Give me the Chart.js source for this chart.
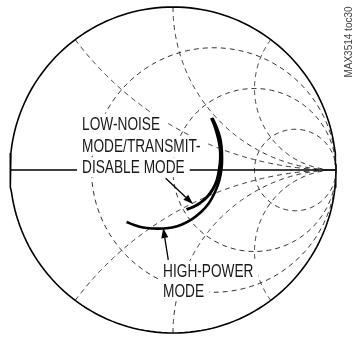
<!DOCTYPE html>
<html>
<head>
<meta charset="utf-8">
<script src="https://cdn.jsdelivr.net/npm/chart.js@4/dist/chart.umd.min.js"></script>
<style>
  html, body { margin: 0; padding: 0; background: #fff; }
  #wrap { width: 356px; height: 339px; }
</style>
</head>
<body>
<div id="wrap"><canvas id="smith" width="356" height="339"></canvas></div>
<script>
// Smith chart grid: normalized resistance circles and reactance arcs
const resistanceCircles = [1 / 3, 1, 3];
const reactanceArcs = [0.5, 1, 2, -0.5, -1, -2];

// Reflection coefficient traces (real part, imaginary part)
const lowNoiseRe = [0.236, 0.258, 0.276, 0.288, 0.291, 0.285, 0.270, 0.245, 0.209, 0.166, 0.123, 0.083];
const lowNoiseIm = [0.319, 0.264, 0.202, 0.141, 0.074, 0.012, -0.061, -0.117, -0.166, -0.202, -0.227, -0.242];
const highPowerRe = [0.242, 0.267, 0.288, 0.298, 0.301, 0.298, 0.285, 0.258, 0.221, 0.172, 0.117, 0.055, -0.006, -0.061, -0.123, -0.184, -0.239, -0.285];
const highPowerIm = [0.319, 0.264, 0.202, 0.141, 0.074, 0.012, -0.061, -0.135, -0.202, -0.258, -0.301, -0.334, -0.353, -0.359, -0.359, -0.353, -0.337, -0.319];

// Callout text and arrows (anchors in reflection-coefficient coordinates)
const labelLines = [
  { text: 'LOW-NOISE',      re: -0.558, im: 0.248 },
  { text: 'MODE/TRANSMIT-', re: -0.558, im: 0.112 },
  { text: 'DISABLE MODE',   re: -0.558, im: -0.020 },
  { text: 'HIGH-POWER',     re: -0.061, im: -0.655 },
  { text: 'MODE',           re: -0.061, im: -0.777 }
];
const arrows = [
  { from: [-0.045, -0.051], to: [0.123, -0.209] },
  { from: [-0.029, -0.552], to: [-0.060, -0.356] }
];
const figureTag = 'MAX3514 toc30';

function zip(re, im) {
  return re.map((v, i) => ({ x: v, y: im[i] }));
}

function resistancePoints(r) {
  const c = r / (1 + r), rad = 1 / (1 + r), pts = [];
  for (let a = 0; a <= 360; a += 2) {
    const t = a * Math.PI / 180;
    pts.push({ x: c + rad * Math.cos(t), y: rad * Math.sin(t) });
  }
  return pts;
}

function reactancePoints(xv) {
  const pts = [];
  const n = 240;
  for (let i = 0; i < n; i++) {
    const r = Math.tan((i / n) * (Math.PI / 2));
    const d = (r + 1) * (r + 1) + xv * xv;
    pts.push({ x: (r * r + xv * xv - 1) / d, y: (2 * xv) / d });
  }
  pts.push({ x: 1, y: 0 });
  return pts;
}

const gridStyle = {
  showLine: true, pointRadius: 0, borderColor: '#1a1a1a', borderWidth: 0.9,
  borderDash: [5, 4], fill: false, tension: 0, clip: false
};

const datasets = [];
resistanceCircles.forEach(r => datasets.push(Object.assign({ data: resistancePoints(r) }, gridStyle)));
reactanceArcs.forEach(x => datasets.push(Object.assign({ data: reactancePoints(x) }, gridStyle)));

// Real axis and outer boundary
datasets.push({ data: [{ x: -1, y: 0 }, { x: 1, y: 0 }], showLine: true, pointRadius: 0,
  borderColor: '#000', borderWidth: 1.5, borderDash: [], clip: false });
datasets.push({ data: resistancePoints(0), showLine: true, pointRadius: 0,
  borderColor: '#000', borderWidth: 1.6, borderDash: [], clip: false });

// Measured traces
datasets.push({ data: zip(highPowerRe, highPowerIm), showLine: true, pointRadius: 0,
  borderColor: '#000', borderWidth: 2.6, borderDash: [], tension: 0.4, clip: false });
datasets.push({ data: zip(lowNoiseRe, lowNoiseIm), showLine: true, pointRadius: 0,
  borderColor: '#000', borderWidth: 3, borderDash: [], tension: 0.4, clip: false });

// Callout text with white knock-out behind it, arrows and the figure tag
const calloutPlugin = {
  id: 'callouts',
  afterDatasetsDraw(chart) {
    const ctx = chart.ctx, xs = chart.scales.x, ys = chart.scales.y;
    const size = 19, squeeze = 0.72;
    ctx.save();
    ctx.setLineDash([]);
    ctx.font = size + 'px "Liberation Sans", Arial, sans-serif';
    ctx.textBaseline = 'alphabetic';
    labelLines.forEach(l => {
      const px = xs.getPixelForValue(l.re), py = ys.getPixelForValue(l.im);
      const w = ctx.measureText(l.text).width * squeeze;
      ctx.fillStyle = '#fff';
      ctx.fillRect(px - 5, py - 16, w + 10, 20);
    });
    ctx.fillStyle = '#1a1a1a';
    labelLines.forEach(l => {
      const px = xs.getPixelForValue(l.re), py = ys.getPixelForValue(l.im);
      ctx.save();
      ctx.translate(px, py);
      ctx.scale(squeeze, 1);
      ctx.fillText(l.text, 0, 0);
      ctx.restore();
    });
    ctx.strokeStyle = '#000';
    ctx.fillStyle = '#000';
    ctx.lineWidth = 1.3;
    arrows.forEach(a => {
      const x0 = xs.getPixelForValue(a.from[0]), y0 = ys.getPixelForValue(a.from[1]);
      const x1 = xs.getPixelForValue(a.to[0]), y1 = ys.getPixelForValue(a.to[1]);
      const ang = Math.atan2(y1 - y0, x1 - x0), L = 10, W = 3.5;
      const bx = x1 - L * Math.cos(ang), by = y1 - L * Math.sin(ang);
      ctx.beginPath(); ctx.moveTo(x0, y0); ctx.lineTo(bx, by); ctx.stroke();
      ctx.beginPath();
      ctx.moveTo(x1, y1);
      ctx.lineTo(bx + W * Math.sin(ang), by - W * Math.cos(ang));
      ctx.lineTo(bx - W * Math.sin(ang), by + W * Math.cos(ang));
      ctx.closePath(); ctx.fill();
    });
    ctx.font = '10px "Liberation Sans", Arial, sans-serif';
    ctx.fillStyle = '#444';
    ctx.textAlign = 'center';
    ctx.translate(352, 42);
    ctx.rotate(-Math.PI / 2);
    ctx.fillText(figureTag, 0, 0);
    ctx.restore();
  }
};

new Chart(document.getElementById('smith'), {
  type: 'scatter',
  data: { datasets },
  options: {
    responsive: false,
    animation: false,
    events: [],
    layout: { padding: { left: 10, right: 20, top: 7, bottom: 6 } },
    plugins: { legend: { display: false }, tooltip: { enabled: false } },
    scales: {
      x: { type: 'linear', min: -1, max: 1, display: false },
      y: { type: 'linear', min: -1, max: 1, display: false }
    }
  },
  plugins: [calloutPlugin]
});
</script>
</body>
</html>
